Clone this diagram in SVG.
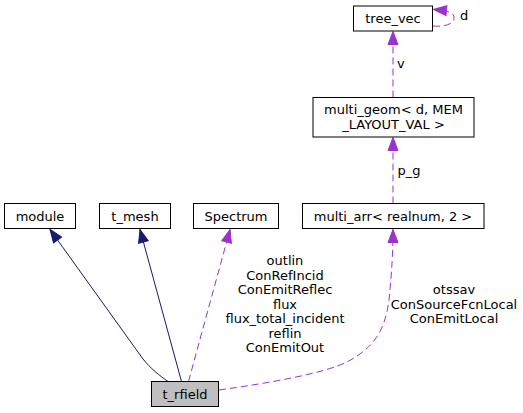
<svg xmlns="http://www.w3.org/2000/svg" width="523" height="413" viewBox="0 0 523 413">
<style>
text{font-family:"DejaVu Sans","Liberation Sans",sans-serif;font-size:13px;fill:#000}
.n{text-anchor:middle}
.box{fill:#fff;stroke:#000;stroke-width:1}
.sel{fill:#bfbfbf;stroke:#000;stroke-width:1}
.inh{fill:none;stroke:#191970;stroke-width:1}
.use{fill:none;stroke:#9a32cd;stroke-width:1;stroke-dasharray:7,4}
</style>
<defs>
<marker id="an" markerUnits="userSpaceOnUse" markerWidth="13" markerHeight="10" refX="13" refY="5" orient="auto" overflow="visible">
<path d="M0,0 L13,5 L0,10 z" fill="#191970" stroke="#191970" stroke-width="1"/>
</marker>
<marker id="ap" markerUnits="userSpaceOnUse" markerWidth="13" markerHeight="10" refX="13" refY="5" orient="auto" overflow="visible">
<path d="M0,0 L13,5 L0,10 z" fill="#9a32cd" stroke="#9a32cd" stroke-width="1"/>
</marker>
</defs>
<g id="connectors">
<path class="inh" d="M168,381.5 C160,376 150,368 143,359 L50,229.5" marker-end="url(#an)"/>
<path class="inh" d="M181.5,381.5 L140,229.5" marker-end="url(#an)"/>
<path class="use" d="M188.5,381.5 L230,229.5" marker-end="url(#ap)"/>
<path class="use" d="M219,390 C270,383 325,373 347,362 C375,347 385,330 389,300 C392,270 393,250 393,229.5" marker-end="url(#ap)"/>
<path class="use" d="M393,203.5 L393,137.5" marker-end="url(#ap)"/>
<path class="use" d="M393,97.5 L393,31.5" marker-end="url(#ap)"/>
<path class="use" d="M433,26 C442,27 454,25 454,18 C454,13 450,11 433.5,9.5" marker-end="url(#ap)"/>
<text x="285" y="265" class="n">outlin</text>
<text x="285" y="279.5" class="n">ConRefIncid</text>
<text x="285" y="294" class="n">ConEmitReflec</text>
<text x="285" y="308.5" class="n">flux</text>
<text x="285" y="323" class="n">flux_total_incident</text>
<text x="285" y="337.5" class="n">reflin</text>
<text x="285" y="352" class="n">ConEmitOut</text>
<text x="454" y="294" class="n">otssav</text>
<text x="454" y="308.5" class="n">ConSourceFcnLocal</text>
<text x="454" y="323" class="n">ConEmitLocal</text>
<text x="397.5" y="174.5">p_g</text>
<text x="397" y="67.5">v</text>
<text x="460" y="20">d</text>
</g>
<g id="tree_vec">
<rect class="box" x="353.5" y="6" width="79" height="25"/>
<text x="393" y="23" class="n">tree_vec</text>
</g>
<g id="multi_geom">
<rect class="box" x="313" y="97.5" width="161" height="39.5"/>
<text x="393.5" y="114" class="n">multi_geom&lt; d, MEM</text>
<text x="393.5" y="129" class="n">_LAYOUT_VAL &gt;</text>
</g>
<g id="module">
<rect class="box" x="4.5" y="203.5" width="71" height="25"/>
<text x="40" y="220.5" class="n">module</text>
</g>
<g id="t_mesh">
<rect class="box" x="99.5" y="203.5" width="71" height="25"/>
<text x="135" y="220.5" class="n">t_mesh</text>
</g>
<g id="Spectrum">
<rect class="box" x="193.5" y="203.5" width="85" height="25"/>
<text x="236" y="220.5" class="n">Spectrum</text>
</g>
<g id="multi_arr">
<rect class="box" x="302.5" y="203.5" width="181.5" height="25"/>
<text x="393" y="220.5" class="n">multi_arr&lt; realnum, 2 &gt;</text>
</g>
<g id="t_rfield">
<rect class="sel" x="151.5" y="381.5" width="67" height="25"/>
<text x="185" y="398.5" class="n">t_rfield</text>
</g>
</svg>
